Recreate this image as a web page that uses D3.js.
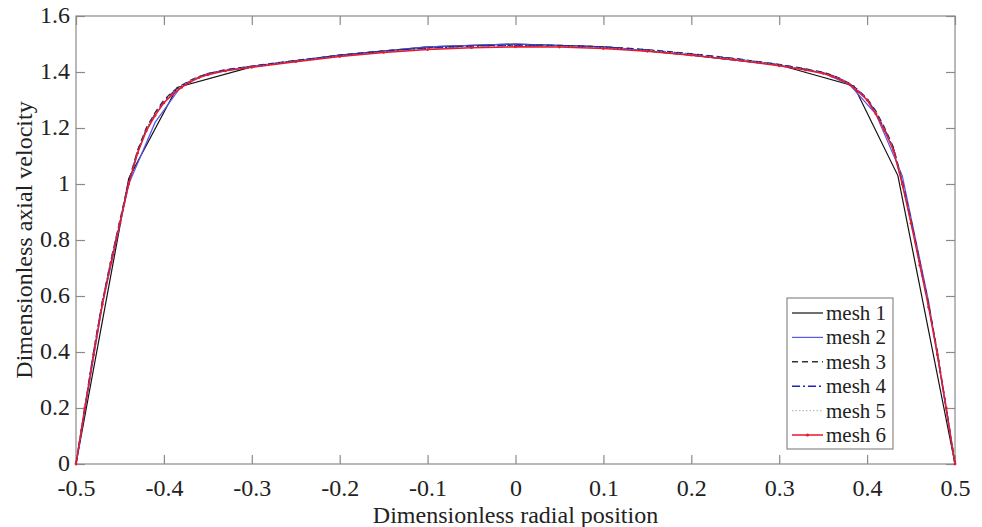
<!DOCTYPE html>
<html><head><meta charset="utf-8">
<script src="https://cdn.jsdelivr.net/npm/d3@7"></script>
<style>
html,body{margin:0;padding:0;background:#fff;}
svg text{font-family:"Liberation Serif","DejaVu Serif",serif !important;fill:#222;}
</style></head>
<body><svg id="c" width="982" height="527"></svg>
<script>
const xTicks = [-0.5,-0.4,-0.3,-0.2,-0.1,0,0.1,0.2,0.3,0.4,0.5];
const yTicks = [0,0.2,0.4,0.6,0.8,1,1.2,1.4,1.6];
const xTickLabels = ["-0.5","-0.4","-0.3","-0.2","-0.1","0","0.1","0.2","0.3","0.4","0.5"];
const yTickLabels = ["0","0.2","0.4","0.6","0.8","1","1.2","1.4","1.6"];
const seriesNames = ["mesh 1","mesh 2","mesh 3","mesh 4","mesh 5","mesh 6"];

const mesh1X = [-0.5,-0.44,-0.385,-0.3,-0.2,-0.1,0,0.1,0.2,0.3,0.385,0.435,0.5];
const mesh1Y = [0,1.02,1.345,1.418,1.46,1.49,1.50,1.49,1.46,1.425,1.35,1.03,0];

const mesh2X = [-0.5,-0.47,-0.44,-0.41,-0.38,-0.35,-0.3,-0.2,-0.1,0,0.1,0.2,0.3,0.35,0.38,0.41,0.44,0.47,0.5];
const mesh2Y = [0,0.57,1.0,1.22,1.35,1.395,1.42,1.46,1.49,1.50,1.49,1.46,1.425,1.397,1.355,1.25,1.03,0.58,0];

const fineX = [-0.5,-0.49,-0.48,-0.47,-0.46,-0.45,-0.44,-0.43,-0.42,-0.41,-0.40,-0.39,-0.38,-0.37,-0.36,-0.35,-0.33,-0.30,-0.25,-0.20,-0.15,-0.10,-0.05,0,0.05,0.10,0.15,0.20,0.25,0.30,0.33,0.35,0.36,0.37,0.38,0.39,0.40,0.41,0.42,0.43,0.44,0.45,0.46,0.47,0.48,0.49,0.5];
const mesh3Y = [0,0.20,0.40,0.58,0.73,0.87,1.01,1.12,1.20,1.255,1.30,1.33,1.352,1.37,1.384,1.394,1.408,1.421,1.441,1.46,1.475,1.486,1.493,1.496,1.495,1.49,1.48,1.465,1.448,1.427,1.411,1.399,1.389,1.376,1.359,1.335,1.305,1.26,1.20,1.13,1.01,0.87,0.72,0.57,0.40,0.20,0];
const mesh4Y = [0,0.20,0.40,0.58,0.73,0.865,1.005,1.115,1.195,1.25,1.295,1.327,1.35,1.368,1.382,1.393,1.407,1.42,1.44,1.459,1.474,1.485,1.492,1.495,1.494,1.489,1.479,1.464,1.447,1.426,1.41,1.398,1.388,1.375,1.358,1.333,1.303,1.255,1.195,1.125,1.005,0.865,0.715,0.565,0.395,0.20,0];
const mesh5Y = [0,0.20,0.39,0.575,0.725,0.862,1.0,1.11,1.19,1.247,1.292,1.324,1.348,1.367,1.381,1.391,1.405,1.418,1.438,1.456,1.471,1.482,1.489,1.492,1.491,1.486,1.476,1.462,1.445,1.424,1.408,1.396,1.386,1.373,1.356,1.331,1.301,1.252,1.192,1.122,1.0,0.862,0.712,0.562,0.392,0.20,0];
const mesh6Y = [0,0.20,0.39,0.57,0.72,0.86,1.0,1.11,1.19,1.245,1.29,1.32,1.345,1.365,1.38,1.39,1.404,1.417,1.437,1.455,1.47,1.48,1.487,1.49,1.489,1.484,1.474,1.46,1.443,1.422,1.407,1.395,1.385,1.372,1.355,1.33,1.30,1.25,1.19,1.12,1.0,0.86,0.71,0.56,0.39,0.20,0];

const svg = d3.select("#c");
const L=76, R=955, T=16, B=464;
const x = d3.scaleLinear().domain([-0.5,0.5]).range([L,R]);
const y = d3.scaleLinear().domain([0,1.6]).range([B,T]);
const axisColor = "#8a8a8a";
const serif = "'Liberation Serif','DejaVu Serif',serif";

svg.append("rect").attr("x",L).attr("y",T).attr("width",R-L).attr("height",B-T)
  .attr("fill","none").attr("stroke",axisColor).attr("stroke-width",1.2);

function styleAxis(g){
  g.attr("font-family",serif);
  g.select(".domain").remove();
  g.selectAll("line").attr("stroke",axisColor).attr("stroke-width",1.2);
  g.selectAll("text").attr("font-size","24px").attr("fill","#222").style("font-family",serif);
}
svg.append("g").attr("transform",`translate(0,${B})`)
  .call(d3.axisBottom(x).tickValues(xTicks).tickSize(-9).tickPadding(15).tickFormat((d,i)=>xTickLabels[i]))
  .call(styleAxis);
svg.append("g").attr("transform",`translate(0,${T})`)
  .call(d3.axisTop(x).tickValues(xTicks).tickSize(-9).tickFormat(""))
  .call(styleAxis);
const yAx = svg.append("g").attr("transform",`translate(${L},0)`)
  .call(d3.axisLeft(y).tickValues(yTicks).tickSize(-9).tickPadding(6).tickFormat((d,i)=>yTickLabels[i]))
  .call(styleAxis);
yAx.selectAll("text").attr("dy","0.28em");
svg.append("g").attr("transform",`translate(${R},0)`)
  .call(d3.axisRight(y).tickValues(yTicks).tickSize(-9).tickFormat(""))
  .call(styleAxis);

svg.append("text").attr("x",(L+R)/2).attr("y",523).attr("text-anchor","middle")
  .attr("font-size","24px").style("font-family",serif).text("Dimensionless radial position");
svg.append("text").attr("transform",`translate(32,${(T+B)/2}) rotate(-90)`).attr("text-anchor","middle")
  .attr("font-size","24px").style("font-family",serif).text("Dimensionless axial velocity");

const series = [
  {name:seriesNames[0], xs:mesh1X, ys:mesh1Y, color:"#111111", dash:null, w:1.2},
  {name:seriesNames[1], xs:mesh2X, ys:mesh2Y, color:"#5555ee", dash:null, w:1.2},
  {name:seriesNames[2], xs:fineX, ys:mesh3Y, color:"#333333", dash:"6,4", w:1.4},
  {name:seriesNames[3], xs:fineX, ys:mesh4Y, color:"#2222bb", dash:"8,3,2,3", w:1.4},
  {name:seriesNames[4], xs:fineX, ys:mesh5Y, color:"#bbbbbb", dash:"1.5,2", w:1.2},
  {name:seriesNames[5], xs:fineX, ys:mesh6Y, color:"#e8182e", dash:null, w:1.5, marker:true}
];
const line = d3.line().x(d=>x(d[0])).y(d=>y(d[1]));
series.forEach(s=>{
  const pts = s.xs.map((v,i)=>[v,s.ys[i]]);
  svg.append("path").datum(pts).attr("d",line).attr("fill","none")
    .attr("stroke",s.color).attr("stroke-width",s.w)
    .attr("stroke-dasharray",s.dash);
  if(s.marker){
    svg.append("g").selectAll("circle").data(pts).join("circle")
      .attr("cx",d=>x(d[0])).attr("cy",d=>y(d[1])).attr("r",1.4).attr("fill",s.color);
  }
});

const lg = svg.append("g");
lg.append("rect").attr("x",787).attr("y",298).attr("width",106).attr("height",151)
  .attr("fill","#fff").attr("stroke",axisColor).attr("stroke-width",1.2);
series.forEach((s,i)=>{
  const yy = 313 + i*24.4;
  lg.append("line").attr("x1",792).attr("x2",823).attr("y1",yy).attr("y2",yy)
    .attr("stroke",s.color).attr("stroke-width",s.w).attr("stroke-dasharray",s.dash);
  if(s.marker) lg.append("circle").attr("cx",807.5).attr("cy",yy).attr("r",1.6).attr("fill",s.color);
  lg.append("text").attr("x",826).attr("y",yy+7).attr("font-size","21px").style("font-family",serif).text(s.name);
});
</script></body></html>
